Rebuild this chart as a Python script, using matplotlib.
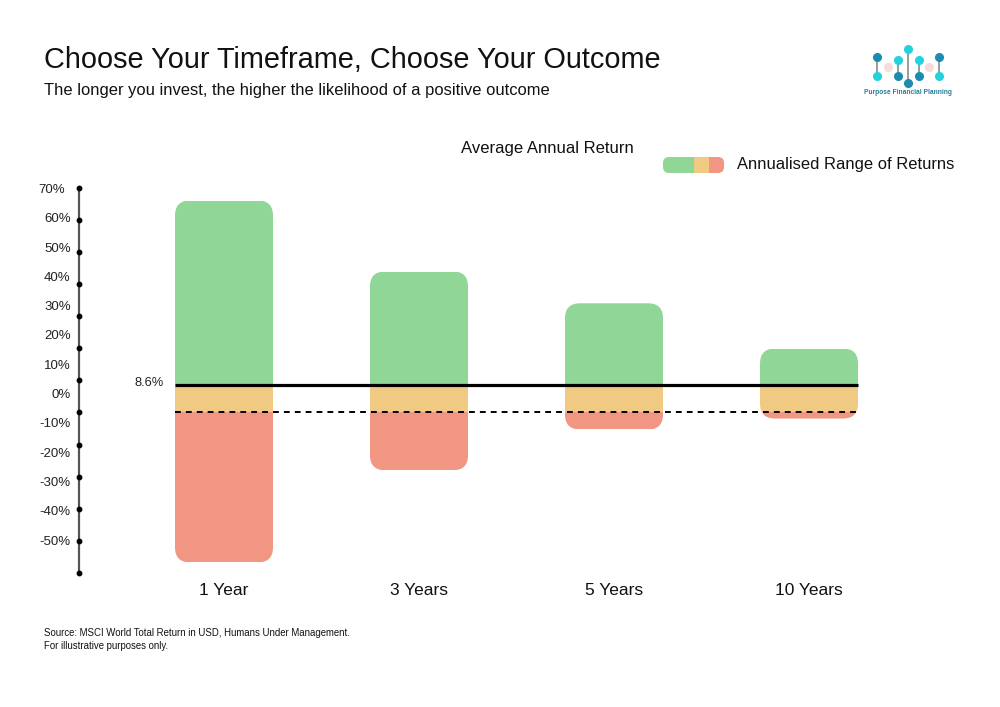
import matplotlib
matplotlib.use('Agg')
import matplotlib.pyplot as plt
from matplotlib.patches import FancyBboxPatch, Rectangle
from matplotlib.transforms import ScaledTranslation

plt.rcParams['font.family'] = ['Liberation Sans', 'DejaVu Sans']

# ---------------- data ----------------
categories = ['1 Year', '3 Years', '5 Years', '10 Years']
range_high = [66.0, 43.9, 34.0, 19.9]
range_low = [-46.7, -18.0, -5.3, -1.9]
average_return = 8.6
baseline = 0.0
y_ticks = [70, 60, 50, 40, 30, 20, 10, 0, -10, -20, -30, -40, -50]
y_tick_labels = [f'{t}%' for t in y_ticks]

GREEN = '#90D696'
ORANGE = '#F0CA82'
RED = '#F09682'

W, H = 1000, 707
fig = plt.figure(figsize=(10, 7.07), dpi=100)


def fr(x0, y0, x1, y1):
    """pixel box (top-left origin) -> figure fraction rect"""
    return [x0 / W, 1 - y1 / H, (x1 - x0) / W, (y1 - y0) / H]


ax_l, ax_r, ax_t, ax_b = 79, 900, 187.7, 573
spacing = 195.0
ax = fig.add_axes(fr(ax_l, ax_t, ax_r, ax_b))
xlo = -(224 - ax_l) / spacing
xhi = 3 + (ax_r - 809) / spacing
ax.set_xlim(xlo, xhi)
ax.set_ylim(-50, 70)
ax.patch.set_visible(False)

for s in ['top', 'right', 'bottom']:
    ax.spines[s].set_visible(False)
ax.spines['left'].set_color('#555555')
ax.spines['left'].set_linewidth(1.6)
ax.set_yticks([])
ax.set_xticks(range(len(categories)))
ax.set_xticklabels(categories, fontsize=12.5, color='#111111')
ax.tick_params(axis='x', length=0, pad=7.5)

# tick dots on axis
ax.plot([xlo] * len(y_ticks), y_ticks, 'o', ms=3.2, color='black',
        clip_on=False, zorder=5)

# label axis (labels are offset from the dots as in the original)
ax2 = fig.add_axes(fr(ax_l, ax_t, ax_r, ax_b), frameon=False)
ax2.patch.set_visible(False)
ax2.set_xlim(xlo, xhi)
ax2.set_ylim(-61.2, 70.24)
ax2.set_xticks([])
ax2.set_yticks(y_ticks)
ax2.set_yticklabels(y_tick_labels, fontsize=9.5, color='#222222')
ax2.tick_params(axis='y', length=0, pad=6)
top_lbl = ax2.get_yticklabels()[0]
top_lbl.set_transform(top_lbl.get_transform() +
                      ScaledTranslation(-5.5 / 100, 0, fig.dpi_scale_trans))

# bars
bw = 98 / spacing
pxx = spacing
pxy = (ax_b - ax_t) / 120.0
r_px = 15
for i, (hi, lo) in enumerate(zip(range_high, range_low)):
    left = i - bw / 2
    clip = FancyBboxPatch((left, lo), bw, hi - lo,
                          boxstyle=f'round,pad=0,rounding_size={r_px / pxx}',
                          mutation_aspect=pxx / pxy,
                          transform=ax.transData)
    segs = [(average_return, hi, GREEN),
            (baseline, average_return, ORANGE),
            (lo, baseline, RED)]
    for y0, y1, c in segs:
        rect = Rectangle((left, y0), bw, y1 - y0, facecolor=c,
                         edgecolor='none', zorder=2)
        ax.add_patch(rect)
        rect.set_clip_path(clip)

# average & zero lines
ax.plot([0 - bw / 2, 3 + bw / 2], [average_return] * 2, color='black',
        lw=2.3, zorder=4, solid_capstyle='butt')
ax.plot([0 - bw / 2, 3 + bw / 2], [baseline] * 2, color='black',
        lw=1.4, zorder=4, dashes=(3.0, 2.6))
ax.annotate(f'{average_return}%', xy=(0 - bw / 2, average_return),
            xytext=(-8, 1), textcoords='offset points', ha='right',
            va='center', fontsize=9.3, color='#222222')

# titles
fig.text(44 / W, 1 - 60 / H, 'Choose Your Timeframe, Choose Your Outcome',
         fontsize=20.8, color='#111111', va='center', ha='left')
fig.text(44 / W, 1 - 91 / H,
         'The longer you invest, the higher the likelihood of a positive outcome',
         fontsize=11.9, color='#111111', va='center', ha='left')

# legend
fig.text(547 / W, 1 - 148 / H, 'Average Annual Return', fontsize=12,
         ha='center', va='center', color='#111111')
fig.text(737 / W, 1 - 164 / H, 'Annualised Range of Returns', fontsize=11.9,
         ha='left', va='center', color='#111111')
lax = fig.add_axes(fr(663, 157, 724, 173))
lax.set_xlim(0, 61)
lax.set_ylim(0, 16)
lax.axis('off')
lclip = FancyBboxPatch((0, 0), 61, 16, boxstyle='round,pad=0,rounding_size=6',
                       transform=lax.transData)
for x0, w, c in [(0, 31, GREEN), (31, 15, ORANGE), (46, 15, RED)]:
    rr = Rectangle((x0, 0), w, 16, facecolor=c, edgecolor='none')
    lax.add_patch(rr)
    rr.set_clip_path(lclip)

# logo
gax = fig.add_axes(fr(860, 40, 960, 100))
gax.set_xlim(860, 960)
gax.set_ylim(100, 40)
gax.axis('off')
DARK = '#1B8CB0'
CYAN = '#22D3DF'
PINK = '#F4DDD8'
logo_cols = [(877, 57, 76, DARK, CYAN), (898, 60, 76, CYAN, DARK),
             (908, 49, 83, CYAN, DARK), (919, 60, 76, CYAN, DARK),
             (939, 57, 76, DARK, CYAN)]
for x, yt, yb, ct, cb in logo_cols:
    gax.plot([x, x], [yt, yb], color='#8a8a8a', lw=1.2, zorder=1)
    gax.plot([x], [yt], 'o', ms=5.5, color=ct, zorder=2)
    gax.plot([x], [yb], 'o', ms=5.5, color=cb, zorder=2)
for x in [888, 929]:
    gax.plot([x], [67], 'o', ms=5.5, color=PINK, zorder=2)
gax.text(908, 92, 'Purpose Financial Planning', fontsize=4.8,
         fontweight='bold', color='#2A7E9A', ha='center', va='center')

# source
fig.text(44 / W, 1 - 633 / H,
         'Source: MSCI World Total Return in USD, Humans Under Management.',
         fontsize=6.9, color='#111111', va='center', ha='left')
fig.text(44 / W, 1 - 646 / H, 'For illustrative purposes only.',
         fontsize=6.9, color='#111111', va='center', ha='left')

fig.savefig('out.png', dpi=100, facecolor='white')
